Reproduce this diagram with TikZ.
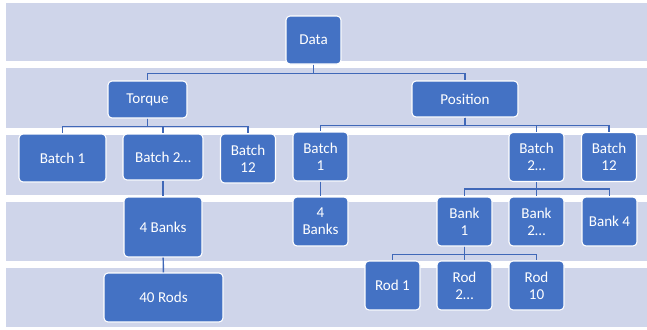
\documentclass[tikz,border=0pt]{standalone}
\usepackage{fontspec}
\setmainfont{Carlito}
\usetikzlibrary{positioning}
\definecolor{bandcol}{HTML}{CFD5EA}
\definecolor{boxcol}{HTML}{4472C4}
\definecolor{linkcol}{HTML}{4068B8}

\begin{document}
\begin{tikzpicture}[x=0.75pt,y=-0.75pt,
  box/.style={draw=white,line width=0.8pt,fill=boxcol,rounded corners=3pt,text=white,align=center,inner sep=1pt,
    font=\fontsize{11.3}{13}\selectfont,minimum width=41.25pt,minimum height=36.75pt},
  link/.style={draw=linkcol,line width=1.1pt}]
  \useasboundingbox (0,0) rectangle (647,329);
  % background bands
  \fill[bandcol] (6,3)   rectangle (647,61);
  \fill[bandcol] (6,68)  rectangle (647,128);
  \fill[bandcol] (6,135) rectangle (647,195);
  \fill[bandcol] (6,202) rectangle (647,261);
  \fill[bandcol] (6,268) rectangle (647,327);
  % level 0 and 1
  \node[box,minimum height=36pt] (data) at (313.5,40) {Data};
  \node[box,minimum width=59.25pt,minimum height=27.75pt] (torque) at (147.5,99.5) {Torque};
  \node[box,minimum width=79.5pt,minimum height=27pt] (position) at (465,99) {Position};
  % torque branch
  \node[box,minimum width=65.25pt,minimum height=36pt] (tbatcha) at (62.5,158) {Batch 1};
  \node[box,minimum width=60pt,minimum height=34.5pt] (tbatchb) at (163,157) {Batch 2…};
  \node[box] (tbatchc) at (248,158.5) {Batch\\12};
  \node[box,minimum width=58.5pt,minimum height=45pt] (tbanks) at (163,227) {4 Banks};
  \node[box,minimum width=89.25pt] (trods) at (163.5,297.5) {40 Rods};
  % position branch
  \node[box] (pbatcha) at (320.5,156.5) {Batch\\1};
  \node[box] (pbatchb) at (536.5,157) {Batch\\2…};
  \node[box] (pbatchc) at (609,157) {Batch\\12};
  \node[box] (pbanks) at (320.5,221.5) {4\\Banks};
  \node[box] (banka) at (464.5,221.5) {Bank\\1};
  \node[box] (bankb) at (536.5,221.5) {Bank\\2…};
  \node[box] (bankd) at (609.5,221.5) {Bank 4};
  \node[box] (roda) at (392.5,285.5) {Rod 1};
  \node[box] (rodb) at (464.5,285.5) {Rod\\2…};
  \node[box] (rodj) at (536.5,285.5) {Rod\\10};
  % connectors
  \draw[link] (data.south) -- ++(0,9) -| (torque.north);
  \draw[link] (data.south) -- ++(0,9) -| (position.north);
  \draw[link] (torque.south) -- ++(0,8) -| (tbatcha.north);
  \draw[link] (torque.south) -- ++(0,8) -| (tbatchb.north);
  \draw[link] (torque.south) -- ++(0,8) -| (tbatchc.north);
  \draw[link] (tbatchb) -- (tbanks);
  \draw[link] (tbanks) -- (trods);
  \draw[link] (position.south) -- ++(0,8) -| (pbatcha.north);
  \draw[link] (position.south) -- ++(0,8) -| (pbatchb.north);
  \draw[link] (position.south) -- ++(0,8) -| (pbatchc.north);
  \draw[link] (pbatcha) -- (pbanks);
  \draw[link] (pbatchb.south) -- ++(0,7) -| (banka.north);
  \draw[link] (pbatchb.south) -- ++(0,7) -| (bankb.north);
  \draw[link] (pbatchb.south) -- ++(0,7) -| (bankd.north);
  \draw[link] (banka.south) -- ++(0,8) -| (roda.north);
  \draw[link] (banka.south) -- ++(0,8) -| (rodb.north);
  \draw[link] (banka.south) -- ++(0,8) -| (rodj.north);
\end{tikzpicture}
\end{document}
